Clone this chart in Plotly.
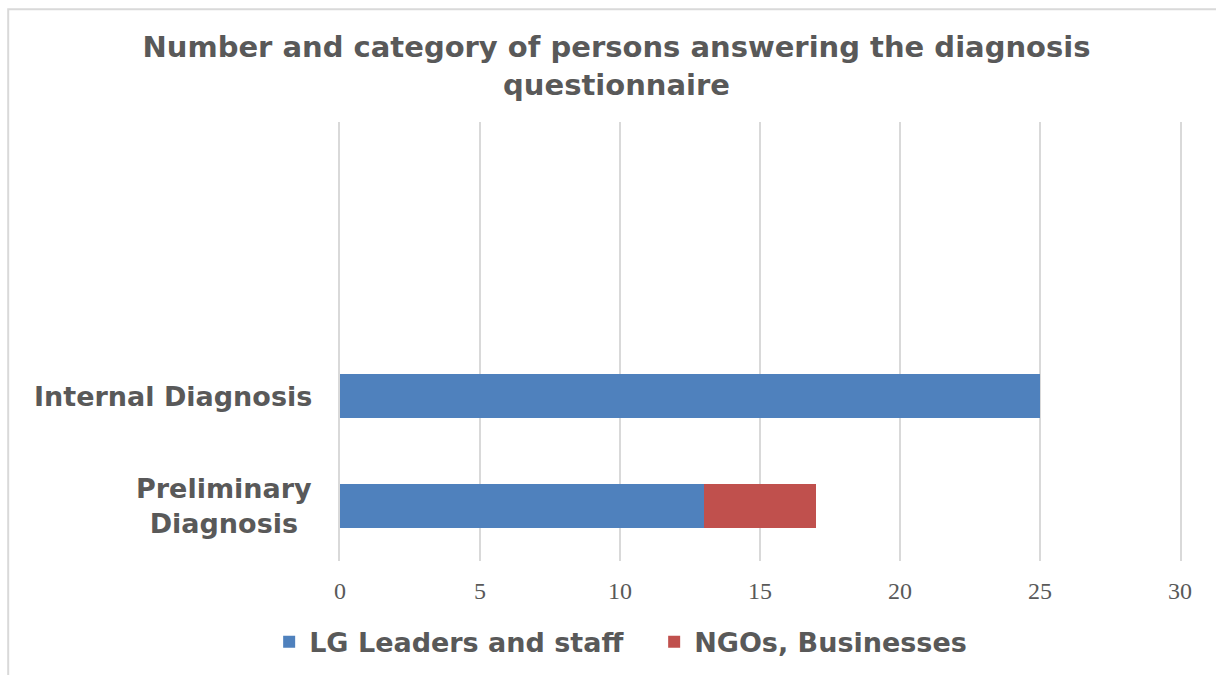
import plotly.graph_objects as go

# Survey respondents by diagnosis phase (bottom to top); the two upper rows are empty
categories = ["Preliminary Diagnosis", "Internal Diagnosis", "row3", "row4"]
category_labels = ["Preliminary<br>Diagnosis", "Internal Diagnosis", "", ""]
lg_leaders_staff = [13, 25, None, None]
ngos_businesses = [4, None, None, None]
x_ticks = [0, 5, 10, 15, 20, 25, 30]

TEXT = "#595959"
GRID = "#D9D9D9"
BOLD_FONT = "DejaVu Sans"

fig = go.Figure()
fig.add_trace(go.Bar(
    y=categories, x=lg_leaders_staff, orientation="h",
    name="LG Leaders and staff", marker=dict(color="#4F81BD", line=dict(width=0)),
))
fig.add_trace(go.Bar(
    y=categories, x=ngos_businesses, orientation="h",
    name="NGOs, Businesses", marker=dict(color="#C0504D", line=dict(width=0)),
))

# Category labels, centred line by line to the left of the plot
annotations = []
for cat, lab in zip(categories, category_labels):
    if lab:
        annotations.append(dict(
            x=0, xref="paper", y=cat, yref="y", text=lab, showarrow=False,
            xanchor="right", yanchor="middle", align="center", xshift=-26,
            font=dict(family=BOLD_FONT, size=27, color=TEXT, weight="bold"),
        ))

fig.update_layout(
    width=1216, height=675,
    margin=dict(l=340, r=36, t=122, b=114, autoexpand=False),
    paper_bgcolor="white", plot_bgcolor="white",
    barmode="stack", bargap=0.6,
    title=dict(
        text="Number and category of persons answering the diagnosis<br>questionnaire",
        x=0.507, xref="container", xanchor="center",
        y=0.915, yref="container", yanchor="top",
        font=dict(family=BOLD_FONT, size=29, color=TEXT, weight="bold"),
    ),
    xaxis=dict(
        range=[0, 30], tickvals=x_ticks, showgrid=True, gridcolor=GRID,
        gridwidth=2, zeroline=False, showline=False, ticks="",
        ticklabelstandoff=13,
        tickfont=dict(family="Liberation Serif", size=24, color=TEXT),
    ),
    # the mirrored y-axis line supplies the gridlines at 0 and 30
    yaxis=dict(
        type="category", categoryarray=categories, range=[-0.5, 3.5],
        showticklabels=False, showgrid=False, zeroline=False,
        showline=True, mirror=True, linecolor=GRID, linewidth=2, ticks="",
    ),
    legend=dict(
        orientation="h", x=0.374, xanchor="center", y=-0.185, yanchor="middle",
        font=dict(family=BOLD_FONT, size=27, color=TEXT, weight="bold"),
        traceorder="normal", entrywidth=340, entrywidthmode="pixels",
    ),
    annotations=annotations,
    shapes=[dict(
        type="rect", xref="paper", yref="paper",
        x0=-0.395, x1=1.2, y0=-0.4, y1=1.257,
        line=dict(color=GRID, width=2), layer="below",
    )],
)

fig.write_html("out.html")
